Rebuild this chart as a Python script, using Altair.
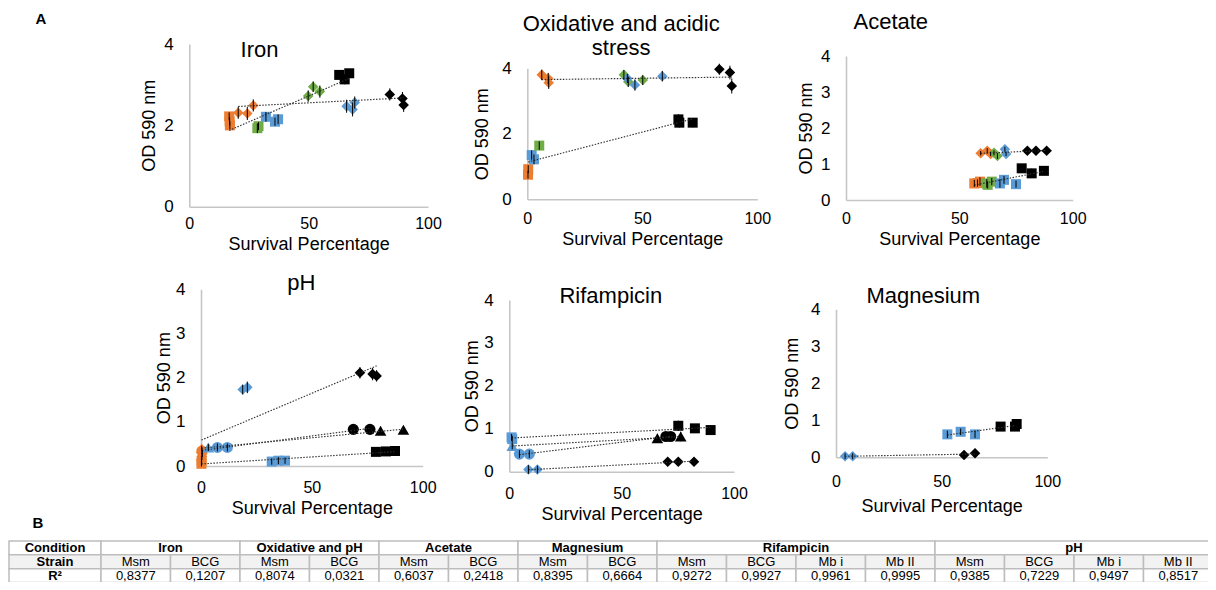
import altair as alt
import pandas as pd

FONT = "Liberation Sans"
W, H = 1200, 574          # whole chart (page margin 8px)
PAGE = 8
LABEL_FS, TITLE_FS = 16, 18

# ---------------- colours / shapes ----------------
COND_KEYS = ["O", "G", "B", "K"]
COND_COLORS = ["#ED7D31", "#70AD47", "#5B9BD5", "#000000"]
STRAIN_KEYS = ["Msm", "BCG", "Mb i", "Mb II"]
STRAIN_SHAPES = ["square", "diamond", "circle", "triangle-up"]
STRAIN_SIZES = [100, 135, 105, 115]

# ---------------- Iron ----------------
IRON_X = [16.7, 16.9, 17.0, 28.5, 29.0, 32.1, 35.9, 37.2, 62.8, 65.1, 67.0,
          20.5, 24.3, 26.8, 49.8, 51.9, 54.7, 65.9, 68.4, 69.3, 84.0, 89.3, 89.8]
IRON_Y = [2.22, 2.10, 2.00, 1.93, 1.98, 2.21, 2.09, 2.15, 3.24, 3.13, 3.28,
          2.31, 2.29, 2.49, 2.72, 2.95, 2.83, 2.47, 2.39, 2.56, 2.76, 2.66, 2.50]
IRON_ERR = [0.10, 0.10, 0.10, 0.12, 0.10, 0.12, 0.10, 0.12, 0.10, 0.12, 0.10,
            0.15, 0.16, 0.15, 0.14, 0.13, 0.15, 0.16, 0.17, 0.15, 0.15, 0.16, 0.17]
IRON_COND = ["O", "O", "O", "G", "G", "B", "B", "B", "K", "K", "K",
             "O", "O", "O", "G", "G", "G", "B", "B", "B", "K", "K", "K"]
IRON_STRAIN = ["Msm"] * 11 + ["BCG"] * 12

# ---------------- Oxidative and acidic stress ----------------
OXI_X = [0.3, 0.4, 1.9, 2.9, 5.2, 65.7, 66.1, 71.9,
         6.3, 9.1, 9.3, 42.0, 43.9, 50.2, 43.5, 46.8, 58.7, 83.5, 88.1, 88.9]
OXI_Y = [0.75, 0.92, 1.35, 1.22, 1.64, 2.44, 2.34, 2.34,
         3.80, 3.69, 3.56, 3.80, 3.59, 3.64, 3.69, 3.49, 3.76, 3.97, 3.87, 3.46]
OXI_ERR = [0.12, 0.12, 0.14, 0.15, 0.13, 0.16, 0.15, 0.14,
           0.16, 0.17, 0.19, 0.15, 0.16, 0.15, 0.14, 0.17, 0.16, 0.17, 0.21, 0.23]
OXI_COND = ["O", "O", "B", "B", "G", "K", "K", "K",
            "O", "O", "O", "G", "G", "G", "B", "B", "B", "K", "K", "K"]
OXI_STRAIN = ["Msm"] * 8 + ["BCG"] * 12

# ---------------- Acetate ----------------
ACE_X = [56.6, 58.0, 59.1, 62.1, 62.5, 64.3, 67.9, 69.7, 75.0, 77.5, 81.9, 87.3,
         59.4, 62.3, 63.8, 65.3, 66.8, 70.1, 70.6, 80.0, 83.8, 88.5]
ACE_Y = [0.46, 0.47, 0.51, 0.46, 0.42, 0.51, 0.46, 0.56, 0.44, 0.88, 0.74, 0.81,
         1.30, 1.37, 1.28, 1.31, 1.22, 1.41, 1.28, 1.37, 1.37, 1.37]
ACE_ERR = [0.10, 0.10, 0.12, 0.12, 0.10, 0.10, 0.12, 0.11, 0.10, 0.12, 0.13, 0.12,
           0.06, 0.07, 0.06, 0.07, 0.08, 0.07, 0.06, 0.05, 0.05, 0.05]
ACE_COND = ["O", "O", "O", "G", "G", "G", "B", "B", "B", "K", "K", "K",
            "O", "O", "O", "G", "G", "B", "B", "K", "K", "K"]
ACE_STRAIN = ["Msm"] * 12 + ["BCG"] * 10

# ---------------- pH ----------------
PH_X = [0.2, 0.3, 31.9, 34.9, 37.9, 78.9, 83.4, 87.5,
        0.2, 0.4, 0.6, 18.8, 20.9, 71.7, 77.4, 79.2,
        0.4, 7.4, 11.9, 68.7, 76.2,
        0.3, 3.3, 81.0, 91.3]
PH_Y = [0.05, 0.12, 0.10, 0.12, 0.12, 0.32, 0.33, 0.34,
        0.15, 0.22, 0.28, 1.73, 1.78, 2.11, 2.08, 2.04,
        0.34, 0.42, 0.42, 0.83, 0.83,
        0.40, 0.42, 0.80, 0.82]
PH_ERR = [0.06, 0.06, 0.07, 0.08, 0.07, 0.09, 0.08, 0.09,
          0.08, 0.08, 0.08, 0.11, 0.13, 0.13, 0.14, 0.13,
          0.07, 0.09, 0.09, 0.10, 0.11,
          0.06, 0.08, 0.09, 0.08]
PH_COND = ["O", "O", "B", "B", "B", "K", "K", "K",
           "O", "O", "O", "B", "B", "K", "K", "K",
           "O", "B", "B", "K", "K",
           "O", "B", "K", "K"]
PH_STRAIN = ["Msm"] * 8 + ["BCG"] * 8 + ["Mb i"] * 5 + ["Mb II"] * 4

# ---------------- Rifampicin ----------------
RIF_X = [1.0, 1.3, 75.2, 82.6, 89.6,
         8.5, 12.5, 70.5, 75.2, 82.2,
         4.5, 8.9, 69.7, 71.8,
         1.3, 65.9, 76.3]
RIF_Y = [0.80, 0.76, 1.07, 1.01, 0.97,
         0.05, 0.05, 0.23, 0.23, 0.23,
         0.41, 0.41, 0.82, 0.82,
         0.60, 0.78, 0.82]
RIF_ERR = [0.08, 0.08, 0.12, 0.10, 0.11,
           0.10, 0.09, 0.10, 0.09, 0.09,
           0.09, 0.09, 0.10, 0.10,
           0.08, 0.10, 0.11]
RIF_COND = ["B", "B", "K", "K", "K", "B", "B", "K", "K", "K",
            "B", "B", "K", "K", "B", "K", "K"]
RIF_STRAIN = ["Msm"] * 5 + ["BCG"] * 5 + ["Mb i"] * 4 + ["Mb II"] * 3

# ---------------- Magnesium ----------------
MAG_X = [52.7, 59.0, 65.8, 77.9, 84.7, 85.5, 4.3, 7.9, 60.6, 65.8]
MAG_Y = [0.62, 0.69, 0.62, 0.83, 0.83, 0.90, 0.03, 0.03, 0.06, 0.11]
MAG_ERR = [0.10, 0.09, 0.10, 0.10, 0.09, 0.10, 0.08, 0.08, 0.07, 0.07]
MAG_COND = ["B", "B", "B", "K", "K", "K", "B", "B", "K", "K"]
MAG_STRAIN = ["Msm"] * 6 + ["BCG"] * 4

# ---------------- Table B ----------------
CONDITION_NAMES = ["Iron", "Oxidative and pH", "Acetate", "Magnesium", "Rifampicin", "pH"]
CONDITION_SPANS = [2, 2, 2, 2, 4, 4]
STRAIN_NAMES = ["Msm", "BCG", "Msm", "BCG", "Msm", "BCG", "Msm", "BCG",
                "Msm", "BCG", "Mb i", "Mb II", "Msm", "BCG", "Mb i", "Mb II"]
R2_VALUES = ["0,8377", "0,1207", "0,8074", "0,0321", "0,6037", "0,2418", "0,8395", "0,6664",
             "0,9272", "0,9927", "0,9961", "0,9995", "0,9385", "0,7229", "0,9497", "0,8517"]
ROW_LABELS = ["Condition", "Strain", "R²"]

# ---------------- layout (page pixel geometry of each panel) ----------------
# cl / ct: distance below the x axis line of the tick-label centre / axis-title centre
GEOM = {
    "iron": dict(x0=189.3, x1=428.0, y0=206.7, y1=44.0, yv=[0, 2, 4], cl=21.3, ct=26.3, ytx=41.3,
                 tx=259.5, ty=56.7, title="Iron"),
    "oxi": dict(x0=527.3, x1=757.3, y0=199.3, y1=68.3, yv=[0, 2, 4], cl=20.7, ct=33.0, ytx=45.6,
                tx=621.2, ty=30.7, title="Oxidative and acidic\nstress"),
    "ace": dict(x0=846.0, x1=1072.7, y0=200.0, y1=56.0, yv=[0, 1, 2, 3, 4], cl=20.0, ct=33.3, ytx=41.0,
                tx=890.8, ty=29.3, title="Acetate"),
    "ph": dict(x0=201.0, x1=422.7, y0=466.0, y1=289.3, yv=[0, 1, 2, 3, 4], cl=22.3, ct=37.3, ytx=37.7,
               tx=301.3, ty=290.0, title="pH"),
    "rif": dict(x0=509.3, x1=734.0, y0=471.7, y1=300.0, yv=[0, 1, 2, 3, 4], cl=25.0, ct=33.3, ytx=37.6,
                tx=610.8, ty=303.3, title="Rifampicin"),
    "mag": dict(x0=836.0, x1=1047.3, y0=457.3, y1=309.3, yv=[0, 1, 2, 3, 4], cl=22.7, ct=47.7, ytx=44.3,
                tx=923.3, ty=303.3, title="Magnesium"),
}
AXIS_GRAY = "#c6c6c6"
MIN_SEP = 0.547 * TITLE_FS + 0.568 * LABEL_FS + 1.5   # keeps x title clear of the "50" label

color_enc = alt.Color("cond:N", scale=alt.Scale(domain=COND_KEYS, range=COND_COLORS), legend=None)
shape_enc = alt.Shape("strain:N", scale=alt.Scale(domain=STRAIN_KEYS, range=STRAIN_SHAPES), legend=None)
size_enc = alt.Size("strain:N", scale=alt.Scale(domain=STRAIN_KEYS, range=STRAIN_SIZES), legend=None)


def make_panel(xs, ys, errs, conds, strains, g):
    """Returns a flat list of layers (each with its own, identical explicit scales)."""
    df = pd.DataFrame({"x": xs, "y": ys, "err": errs, "cond": conds, "strain": strains})
    x0, x1, y0, y1 = g["x0"] - PAGE, g["x1"] - PAGE, g["y0"] - PAGE, g["y1"] - PAGE
    shift = max(0.0, MIN_SEP - (g["ct"] - g["cl"]))
    cl = g["cl"] - shift / 3
    ct = g["ct"] + 2 * shift / 3
    label_pad = cl - 0.432 * LABEL_FS
    title_y = ct + 0.358 * TITLE_FS
    xsc = alt.Scale(domain=[0, 100], range=[x0, x1], nice=False, zero=False)
    ysc = alt.Scale(domain=[0, 4], range=[y0, y1], nice=False, zero=False)
    xax = alt.Axis(orient="bottom", offset=y0 - H, values=[0, 50, 100], title="Survival Percentage",
                   grid=False, ticks=False, tickSize=0, domainColor=AXIS_GRAY, domainWidth=1.6,
                   labelFont=FONT, labelFontSize=LABEL_FS, labelColor="black", labelPadding=label_pad,
                   labelFlush=False, labelOverlap=False,
                   titleFont=FONT, titleFontSize=TITLE_FS, titleFontWeight="normal", titleColor="black",
                   titleY=title_y, titleBaseline="alphabetic")
    yax = alt.Axis(orient="left", offset=-x0, values=g["yv"], title="OD 590 nm",
                   grid=False, ticks=False, tickSize=0, domainColor=AXIS_GRAY, domainWidth=1.6,
                   labelFont=FONT, labelFontSize=LABEL_FS + 1, labelColor="black", labelPadding=16,
                   labelOverlap=False,
                   titleFont=FONT, titleFontSize=TITLE_FS, titleFontWeight="normal", titleColor="black",
                   titleX=-g["ytx"] + 1, titleBaseline="middle")
    base = alt.Chart(df)
    pts = base.mark_point(filled=True, opacity=1, strokeWidth=0).encode(
        x=alt.X("x:Q", scale=xsc, axis=xax),
        y=alt.Y("y:Q", scale=ysc, axis=yax),
        color=color_enc,
        shape=shape_enc,
        size=size_enc,
    )
    bars = base.transform_calculate(
        lo="datum.y - datum.err", hi="datum.y + datum.err"
    ).mark_rule(color="black", strokeWidth=1).encode(
        x=alt.X("x:Q", scale=xsc, axis=None),
        y=alt.Y("lo:Q", scale=ysc, axis=None),
        y2="hi:Q",
    )
    trend = base.transform_regression("x", "y", groupby=["strain"]).mark_line(
        color="#333333", strokeWidth=1.15, strokeDash=[1.5, 1.5]
    ).encode(
        x=alt.X("x:Q", scale=xsc, axis=None),
        y=alt.Y("y:Q", scale=ysc, axis=None),
        detail="strain:N",
    )
    ttl = alt.Chart(pd.DataFrame({"t": [g["title"]]})).mark_text(
        font=FONT, fontSize=22, color="black", align="center", baseline="alphabetic",
        lineBreak="\n", lineHeight=24.3,
    ).encode(text="t:N", x=alt.value(g["tx"] - PAGE), y=alt.value(g["ty"] - PAGE))
    return [pts, trend, bars, ttl]


layers = []
layers += make_panel(IRON_X, IRON_Y, IRON_ERR, IRON_COND, IRON_STRAIN, GEOM["iron"])
layers += make_panel(OXI_X, OXI_Y, OXI_ERR, OXI_COND, OXI_STRAIN, GEOM["oxi"])
layers += make_panel(ACE_X, ACE_Y, ACE_ERR, ACE_COND, ACE_STRAIN, GEOM["ace"])
layers += make_panel(PH_X, PH_Y, PH_ERR, PH_COND, PH_STRAIN, GEOM["ph"])
layers += make_panel(RIF_X, RIF_Y, RIF_ERR, RIF_COND, RIF_STRAIN, GEOM["rif"])
layers += make_panel(MAG_X, MAG_Y, MAG_ERR, MAG_COND, MAG_STRAIN, GEOM["mag"])

# ---------------- table ----------------
cells = []
for r, lab in enumerate(ROW_LABELS):
    cells.append(dict(c0=-1, c1=0, r0=r, r1=r + 1, text=lab, bold=True,
                      bg="#f2f2f2" if r == 1 else "#ffffff"))
col = 0
for name, span in zip(CONDITION_NAMES, CONDITION_SPANS):
    cells.append(dict(c0=col, c1=col + span, r0=0, r1=1, text=name, bold=True, bg="#ffffff"))
    col += span
for i, (s, v) in enumerate(zip(STRAIN_NAMES, R2_VALUES)):
    cells.append(dict(c0=i, c1=i + 1, r0=1, r1=2, text=s, bold=False, bg="#f2f2f2"))
    cells.append(dict(c0=i, c1=i + 1, r0=2, r1=3, text=v, bold=False, bg="#ffffff"))
tdf = pd.DataFrame(cells)
tdf["cm"] = (tdf["c0"] + tdf["c1"]) / 2
tdf["rm"] = (tdf["r0"] + tdf["r1"]) / 2

T_LEFT, T_SPLIT, T_RIGHT = 9.0, 101.0, 1213.0
T_TOP, T_BOTTOM = 541.0, 582.5


def tx_sc():
    return alt.Scale(domain=[-1, 0, len(STRAIN_NAMES)],
                     range=[T_LEFT - PAGE, T_SPLIT - PAGE, T_RIGHT - PAGE], nice=False, zero=False)


def ty_sc():
    return alt.Scale(domain=[0, 3], range=[T_TOP - PAGE, T_BOTTOM - PAGE], nice=False, zero=False)


tbase = alt.Chart(tdf)
t_rect = tbase.mark_rect(stroke="#bdbdbd", strokeWidth=1.5).encode(
    x=alt.X("c0:Q", scale=tx_sc(), axis=None), x2="c1:Q",
    y=alt.Y("r0:Q", scale=ty_sc(), axis=None), y2="r1:Q",
    fill=alt.Fill("bg:N", scale=None),
)
t_bold = tbase.transform_filter("datum.bold").mark_text(
    font=FONT, fontSize=13, fontWeight="bold", color="black", baseline="middle", align="center"
).encode(x=alt.X("cm:Q", scale=tx_sc(), axis=None), y=alt.Y("rm:Q", scale=ty_sc(), axis=None), text="text:N")
t_norm = tbase.transform_filter("!datum.bold").mark_text(
    font=FONT, fontSize=13, color="black", baseline="middle", align="center"
).encode(x=alt.X("cm:Q", scale=tx_sc(), axis=None), y=alt.Y("rm:Q", scale=ty_sc(), axis=None), text="text:N")
layers += [t_rect, t_bold, t_norm]

# ---------------- panel letters ----------------
lab_a = alt.Chart(pd.DataFrame({"t": ["A"]})).mark_text(
    font=FONT, fontSize=15, fontWeight="bold", align="center", baseline="alphabetic", color="black"
).encode(text="t:N", x=alt.value(41 - PAGE), y=alt.value(24 - PAGE))
lab_b = alt.Chart(pd.DataFrame({"t": ["B"]})).mark_text(
    font=FONT, fontSize=15, fontWeight="bold", align="center", baseline="alphabetic", color="black"
).encode(text="t:N", x=alt.value(38 - PAGE), y=alt.value(528 - PAGE))
layers += [lab_a, lab_b]

chart = alt.layer(*layers).resolve_scale(
    x="independent", y="independent"
).properties(
    width=W, height=H, padding=0, background="white",
    autosize=alt.AutoSizeParams(type="none"),
).configure_view(stroke=None)

chart.save("out.html", embed_options={"renderer": "svg", "actions": False})
